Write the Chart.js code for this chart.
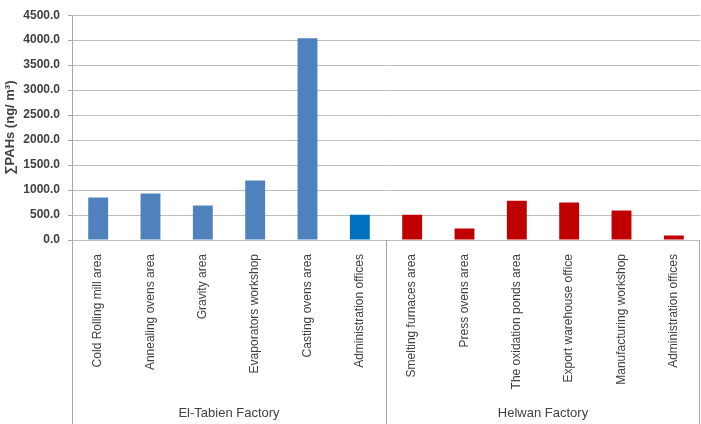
<!DOCTYPE html>
<html>
<head>
<meta charset="utf-8">
<script src="https://cdn.jsdelivr.net/npm/chart.js@4.4.1/dist/chart.umd.min.js"></script>
<style>
  html, body { margin: 0; padding: 0; background: #fff; }
  #wrap { width: 701px; height: 424px; }
</style>
</head>
<body>
<div id="wrap"><canvas id="c" width="701" height="424"></canvas></div>
<script>
"use strict";

/* ─── DATA ─── */
const sites = [
  "Cold Rolling mill area", "Annealing ovens area", "Gravity area",
  "Evaporators workshop", "Casting ovens area", "Administration offices",
  "Smelting furnaces area", "Press ovens area", "The oxidation ponds area",
  "Export warehouse office", "Manufacturing workshop", "Administration offices"
];
const pahTotals = [850, 930, 690, 1190, 4040, 505, 505, 230, 785, 750, 590, 90];
const factories = ["El-Tabien Factory", "Helwan Factory"];
const sitesPerFactory = [6, 6];
const yTicks = [0, 500, 1000, 1500, 2000, 2500, 3000, 3500, 4000, 4500];

/* ─── STYLE ─── */
const C = {
  blue: "#4F81BD", blueDark: "#0070C0", red: "#C00000",
  grid: "#BDBDBD", axis: "#A6A6A6", text: "#404040",
};
const FONT = "'Liberation Sans', Arial, sans-serif";
const barColors = sites.map((s, i) => i < 5 ? C.blue : (i === 5 ? C.blueDark : C.red));

/* group separators + factory labels under the category axis */
const groupAxis = {
  id: "groupAxis",
  afterDraw(chart) {
    const { ctx, chartArea, scales: { x } } = chart;
    const half = (x.getPixelForValue(1) - x.getPixelForValue(0)) / 2;
    const bottom = chart.height;
    ctx.save();
    ctx.strokeStyle = C.axis;
    ctx.lineWidth = 1;
    let start = 0;
    const edges = [x.getPixelForValue(0) - half];
    sitesPerFactory.forEach(n => { start += n; edges.push(x.getPixelForValue(start - 1) + half); });
    edges.forEach(px => {
      const xx = Math.min(Math.round(px), chart.width - 2) + 0.5;
      ctx.beginPath();
      ctx.moveTo(xx, chartArea.bottom);
      ctx.lineTo(xx, bottom);
      ctx.stroke();
    });
    ctx.fillStyle = C.text;
    ctx.font = "13px " + FONT;
    ctx.textAlign = "center";
    ctx.textBaseline = "middle";
    factories.forEach((f, i) => ctx.fillText(f, (edges[i] + edges[i + 1]) / 2, 413));
    ctx.restore();
  }
};

new Chart(document.getElementById("c"), {
  type: "bar",
  data: {
    labels: sites,
    datasets: [{
      data: pahTotals,
      backgroundColor: barColors,
      barPercentage: 0.38,
      categoryPercentage: 1,
    }]
  },
  options: {
    responsive: false,
    animation: false,
    layout: { padding: { top: 5, right: 1, left: 0, bottom: 0 } },
    plugins: { legend: { display: false }, tooltip: { enabled: false } },
    scales: {
      x: {
        grid: { display: false },
        border: { display: false },
        ticks: {
          color: C.text, font: { family: FONT, size: 12 },
          minRotation: 90, maxRotation: 90, padding: 6, autoSkip: false,
        },
        afterFit: s => { s.height = 184; },
      },
      y: {
        min: 0, max: 4500,
        afterBuildTicks: s => { s.ticks = yTicks.map(v => ({ value: v })); },
        grid: { color: C.grid, tickLength: 4, tickColor: C.axis },
        border: { color: C.axis },
        ticks: {
          color: C.text, font: { family: FONT, size: 12, weight: "bold" }, padding: 8,
          callback: v => v.toFixed(1),
        },
        title: {
          display: true, text: "\u2211PAHs (ng/ m\u00B3)", color: C.text,
          font: { family: FONT, size: 13, weight: "bold" }, padding: { top: 3, bottom: 0 },
        },
        afterFit: s => { s.width = 72; },
      }
    }
  },
  plugins: [groupAxis]
});
</script>
</body>
</html>
